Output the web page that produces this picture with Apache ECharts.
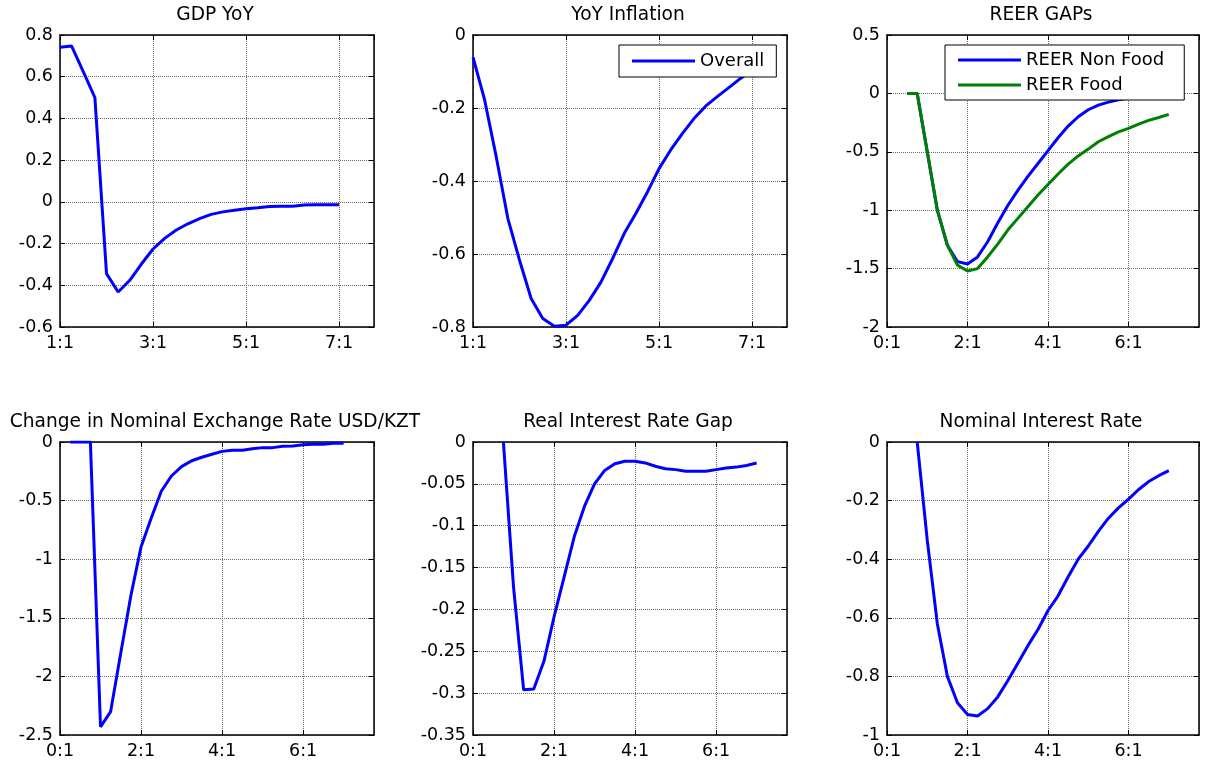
<!DOCTYPE html>
<html><head><meta charset="utf-8">
<script src="https://cdn.jsdelivr.net/npm/echarts@6/dist/echarts.min.js"></script>
<style>html,body{margin:0;padding:0;background:#fff}#c{width:1211px;height:765px}</style>
</head><body><div id="c"></div>
<script>
// Quarter index 0 = first quarter of the axis base year
const xTicksTop = ['1:1', '3:1', '5:1', '7:1'];
const xTicksBottom = ['0:1', '2:1', '4:1', '6:1'];

const gdpStart = 0;
const gdpYoY = [0.741, 0.747, 0.624, 0.50, -0.344, -0.432, -0.376, -0.298, -0.226, -0.175, -0.135, -0.105, -0.08, -0.06, -0.048, -0.04, -0.033, -0.028, -0.022, -0.021, -0.021, -0.015, -0.014, -0.014, -0.014];

const inflStart = 0;
const inflation = [-0.061, -0.178, -0.334, -0.503, -0.617, -0.722, -0.777, -0.798, -0.795, -0.768, -0.727, -0.677, -0.613, -0.544, -0.489, -0.430, -0.366, -0.315, -0.270, -0.229, -0.195, -0.169, -0.144, -0.119, -0.096];

const reerStart = 2;
const reerNonFood = [0, 0, -0.5, -1.0, -1.30, -1.44, -1.46, -1.40, -1.27, -1.11, -0.96, -0.83, -0.71, -0.60, -0.49, -0.38, -0.28, -0.20, -0.14, -0.10, -0.075, -0.055, -0.04, -0.028, -0.02, -0.014, -0.01];
const reerFood = [0, 0, -0.5, -1.0, -1.30, -1.47, -1.52, -1.50, -1.40, -1.29, -1.17, -1.07, -0.97, -0.87, -0.78, -0.69, -0.605, -0.535, -0.477, -0.414, -0.37, -0.33, -0.30, -0.263, -0.231, -0.206, -0.18];

const fxStart = 1;
const fxChange = [0, 0, 0, -2.43, -2.30, -1.80, -1.31, -0.895, -0.65, -0.42, -0.29, -0.21, -0.16, -0.13, -0.105, -0.08, -0.07, -0.07, -0.057, -0.048, -0.048, -0.037, -0.034, -0.023, -0.02, -0.02, -0.01, -0.01];

const rirStart = 3;
const realRateGap = [0, -0.173, -0.296, -0.295, -0.262, -0.209, -0.161, -0.113, -0.077, -0.050, -0.034, -0.026, -0.023, -0.023, -0.025, -0.029, -0.032, -0.033, -0.035, -0.035, -0.035, -0.033, -0.031, -0.030, -0.028, -0.025];

const nirStart = 3;
const nominalRate = [0, -0.335, -0.62, -0.80, -0.89, -0.93, -0.935, -0.91, -0.87, -0.815, -0.755, -0.695, -0.64, -0.575, -0.525, -0.46, -0.40, -0.355, -0.305, -0.26, -0.225, -0.195, -0.162, -0.135, -0.115, -0.098];

const FONT = 'DejaVu Sans';
const BLUE = '#0000ff', GREEN = '#008000';

const panels = [
  {title: 'GDP YoY', left: 60, top: 35, w: 314, h: 292, xMax: 27, ticks: xTicksTop, yMin: -0.6, yMax: 0.8, yInt: 0.2, tTop: 6,
   series: [{name: 'GDP YoY', data: gdpYoY, start: gdpStart, color: BLUE}]},
  {title: 'YoY Inflation', left: 473, top: 35, w: 314, h: 292, xMax: 27, ticks: xTicksTop, yMin: -0.8, yMax: 0, yInt: 0.2, tTop: 6,
   series: [{name: 'Overall', data: inflation, start: inflStart, color: BLUE}]},
  {title: 'REER GAPs', left: 887, top: 35, w: 312, h: 292, xMax: 31, ticks: xTicksBottom, yMin: -2, yMax: 0.5, yInt: 0.5, tTop: 6,
   series: [{name: 'REER Non Food', data: reerNonFood, start: reerStart, color: BLUE},
            {name: 'REER Food', data: reerFood, start: reerStart, color: GREEN}]},
  {title: 'Change in Nominal Exchange Rate USD/KZT', left: 60, top: 442, w: 314, h: 293, xMax: 31, ticks: xTicksBottom, yMin: -2.5, yMax: 0, yInt: 0.5, tTop: 413,
   series: [{name: 'FX', data: fxChange, start: fxStart, color: BLUE}]},
  {title: 'Real Interest Rate Gap', left: 473, top: 442, w: 314, h: 293, xMax: 31, ticks: xTicksBottom, yMin: -0.35, yMax: 0, yInt: 0.05, tTop: 413,
   series: [{name: 'RIR', data: realRateGap, start: rirStart, color: BLUE}]},
  {title: 'Nominal Interest Rate', left: 887, top: 442, w: 312, h: 293, xMax: 31, ticks: xTicksBottom, yMin: -1, yMax: 0, yInt: 0.2, tTop: 413,
   series: [{name: 'NIR', data: nominalRate, start: nirStart, color: BLUE}]}
];

const grid = [], xAxis = [], yAxis = [], series = [], title = [];
const lineAx = {show: true, onZero: false, lineStyle: {color: '#000', width: 1.5}};
const tickIn = {show: true, inside: true, length: 5, lineStyle: {color: '#000', width: 1}};
const gridLine = {show: true, lineStyle: {color: '#6a6a6a', type: [1, 1], width: 1}};
const labelStyle = {color: '#000', fontFamily: FONT, fontSize: 17.5};

panels.forEach((p, i) => {
  grid.push({left: p.left, top: p.top, width: p.w, height: p.h, containLabel: false, outerBoundsMode: 'none'});
  title.push({text: p.title, left: p.left + p.w / 2 - 2, top: p.tTop, textAlign: 'center', padding: 0,
    textStyle: {fontFamily: FONT, fontSize: 18.6, fontWeight: 'normal', color: '#000'}});
  const ticks = p.ticks;
  xAxis.push({type: 'value', gridIndex: i, position: 'bottom', min: 0, max: p.xMax, interval: 8,
    axisLine: lineAx, axisTick: tickIn, splitLine: gridLine,
    axisLabel: Object.assign({margin: 7, showMaxLabel: false,
      formatter: v => (v % 8 === 0 && ticks[v / 8] !== undefined) ? ticks[v / 8] : ''}, labelStyle)});
  xAxis.push({type: 'value', gridIndex: i, position: 'top', min: 0, max: p.xMax, interval: 8,
    axisLine: lineAx, axisTick: tickIn, splitLine: {show: false}, axisLabel: {show: false}});
  yAxis.push({type: 'value', gridIndex: i, position: 'left', min: p.yMin, max: p.yMax, interval: p.yInt,
    axisLine: lineAx, axisTick: tickIn, splitLine: gridLine,
    axisLabel: Object.assign({margin: 7}, labelStyle)});
  yAxis.push({type: 'value', gridIndex: i, position: 'right', min: p.yMin, max: p.yMax, interval: p.yInt,
    axisLine: lineAx, axisTick: tickIn, splitLine: {show: false}, axisLabel: {show: false}});
  p.series.forEach(s => {
    series.push({type: 'line', name: s.name, xAxisIndex: 2 * i, yAxisIndex: 2 * i,
      data: s.data.map((v, k) => [s.start + k, v]),
      showSymbol: false, symbol: 'none', clip: true, z: 3,
      lineStyle: {color: s.color, width: 3}, itemStyle: {color: s.color}});
  });
});

const legendBase = {orient: 'vertical', icon: 'rect', itemWidth: 63, itemHeight: 3, itemGap: 7,
  backgroundColor: '#fff', borderColor: '#000', borderWidth: 1, borderRadius: 0,
  textStyle: {fontFamily: FONT, fontSize: 18, color: '#000'}, selectedMode: false, z: 10};

const legend = [
  Object.assign({}, legendBase, {data: ['Overall'], left: 619, top: 45, padding: [7, 12, 7, 13]}),
  Object.assign({}, legendBase, {data: ['REER Non Food', 'REER Food'], left: 945, top: 45, padding: [6, 20, 6, 13]})
];

const chart = echarts.init(document.getElementById('c'), null, {renderer: 'canvas'});
chart.setOption({animation: false, backgroundColor: '#fff', title, grid, xAxis, yAxis, series, legend});
</script>
</body></html>
